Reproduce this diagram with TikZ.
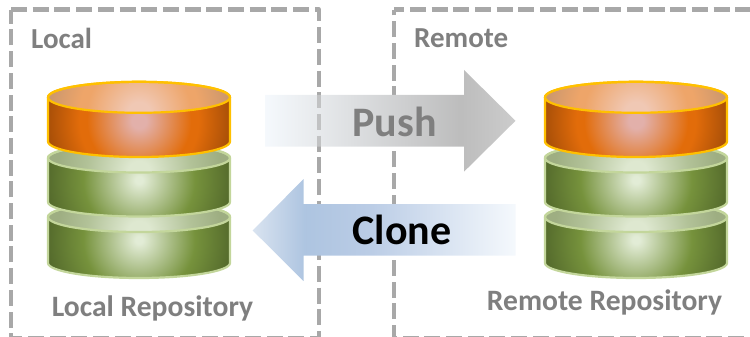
\documentclass[tikz,border=0pt]{standalone}
\usepackage{fontspec}
\setmainfont{Carlito}
\tikzset{
  x=1pt,y=-1pt,
  boxline/.style={draw={rgb,255:red,168;green,168;blue,168},line width=4.4pt,dash pattern=on 16pt off 5.7pt,line join=round},
  lbl/.style={font=\bfseries\fontsize{29pt}{32pt}\selectfont,text={rgb,255:red,127;green,127;blue,127},inner sep=0pt},
  replbl/.style={lbl,font=\bfseries\fontsize{29.6pt}{32pt}\selectfont},
  arrowlbl/.style={font=\bfseries\fontsize{42pt}{44pt}\selectfont,inner sep=0pt},
  orangeline/.style={draw={rgb,255:red,255;green,192;blue,0},line width=2.2pt},
  greenline/.style={draw={rgb,255:red,195;green,214;blue,155},line width=2.2pt},
}
\definecolor{oc}{RGB}{226,176,170}\definecolor{om}{RGB}{226,108,10}\definecolor{oe}{RGB}{166,78,8}
\definecolor{otc}{RGB}{240,200,180}\definecolor{otm}{RGB}{238,165,105}\definecolor{ote}{RGB}{200,150,110}
\definecolor{gc}{RGB}{226,236,214}\definecolor{gm}{RGB}{118,146,60}\definecolor{ge}{RGB}{84,106,44}
\definecolor{gtc}{RGB}{222,232,208}\definecolor{gtm}{RGB}{178,194,152}\definecolor{gte}{RGB}{158,174,130}
\pgfdeclareradialshading{orangebody}{\pgfpoint{0bp}{0bp}}{color(0bp)=(oc);color(2bp)=(oc);color(14bp)=(om);color(16bp)=(om);color(25bp)=(oe);color(50bp)=(oe)}
\pgfdeclareradialshading{orangetop}{\pgfpoint{0bp}{0bp}}{color(0bp)=(otc);color(3bp)=(otc);color(14bp)=(otm);color(16bp)=(otm);color(25bp)=(ote);color(50bp)=(ote)}
\pgfdeclareradialshading{greenbody}{\pgfpoint{0bp}{0bp}}{color(0bp)=(gc);color(1bp)=(gc);color(15bp)=(gm);color(25bp)=(ge);color(50bp)=(ge)}
\pgfdeclareradialshading{greentop}{\pgfpoint{0bp}{0bp}}{color(0bp)=(gtc);color(3bp)=(gtc);color(14bp)=(gtm);color(22bp)=(gte);color(50bp)=(gte)}
\pgfdeclarehorizontalshading{pushshade}{100bp}{rgb(0bp)=(.96,.975,.99);rgb(25bp)=(.96,.975,.99);rgb(35bp)=(.91,.92,.93);rgb(64bp)=(.74,.74,.74);rgb(75bp)=(.80,.80,.80);rgb(100bp)=(.80,.80,.80)}
\pgfdeclarehorizontalshading{cloneshade}{100bp}{rgb(0bp)=(.85,.89,.94);rgb(25bp)=(.85,.89,.94);rgb(35bp)=(.68,.77,.88);rgb(47bp)=(.73,.80,.90);rgb(75bp)=(.96,.975,.99);rgb(100bp)=(.96,.975,.99)}
% #1 centre x, #2 top-ellipse y, #3 side bottom y, #4 ry, #5 highlight y, #6 body shading, #7 top shading, #8 line style
\newcommand{\drumpart}[8]{%
  \begin{scope}
    \clip (#1-91,#2) -- (#1-91,#3) arc[start angle=180,end angle=0,x radius=91,y radius=#4] -- (#1+91,#2) arc[start angle=0,end angle=-180,x radius=91,y radius=#4] -- cycle;
    \shade[shading=#6] (#1,#5) circle[radius=93];
  \end{scope}
  \begin{scope}
    \clip (#1,#2) ellipse[x radius=91,y radius=#4];
    \shade[shading=#7] (#1,#5-8) circle[radius=93];
  \end{scope}
  \draw[#8] (#1-91,#2) -- (#1-91,#3) arc[start angle=180,end angle=0,x radius=91,y radius=#4] -- (#1+91,#2) arc[start angle=0,end angle=-180,x radius=91,y radius=#4] -- cycle;
  \draw[#8] (#1,#2) ellipse[x radius=91,y radius=#4];
}
\begin{document}
\begin{tikzpicture}
\useasboundingbox (0,0) rectangle (750,337);
\clip (0,0) rectangle (750,337);
\draw[boxline] (11,9.7) -- (319,9.7) -- (319,338) -- (11,338) -- cycle;
\draw[boxline,dash phase=5.9pt] (394,9.7) -- (760,9.7) -- (760,338) -- (394,338) -- cycle;
\node[lbl,anchor=west] (localt) at (31,38) {Local};
\node[lbl,anchor=west] (remotet) at (414,38) {Remote};
\node[replbl] (localr) at (152.5,308) {Local Repository};
\node[replbl] (remoter) at (604.5,302) {Remote Repository};
\foreach \cx in {139,636}{
  \drumpart{\cx}{217}{263}{15}{240}{greenbody}{greentop}{greenline}
  \drumpart{\cx}{158}{202}{14.5}{180}{greenbody}{greentop}{greenline}
  \drumpart{\cx}{97.3}{141.5}{15.5}{121}{orangebody}{orangetop}{orangeline}
}
\shade[shading=pushshade]
  (265,95) -- (464,95) -- (464,70) -- (515.5,120.8) -- (464,171.7) -- (464,146.7) -- (265,146.7) -- cycle;
\begin{scope}
  \clip (314,95) rectangle (324,146.7);
  \draw[boxline,opacity=.6] (11,9.7) -- (319,9.7) -- (319,338) -- (11,338) -- cycle;
\end{scope}
\shade[shading=cloneshade]
  (515.5,204) -- (303.5,204) -- (303.5,179) -- (252.7,230.5) -- (303.5,281) -- (303.5,255.7) -- (515.5,255.7) -- cycle;
\node[arrowlbl,text={rgb,255:red,127;green,127;blue,127}] (push) at (394.5,122) {Push};
\node[arrowlbl,text=black] (clone) at (402,230) {Clone};
\end{tikzpicture}
\end{document}
